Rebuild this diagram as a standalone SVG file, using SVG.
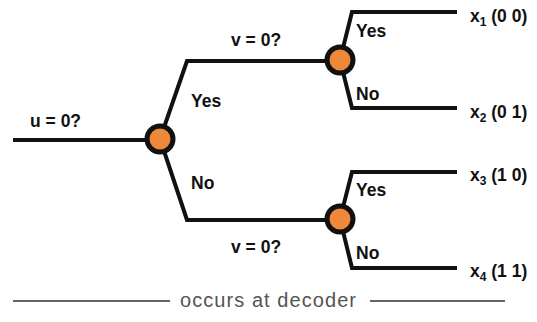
<svg xmlns="http://www.w3.org/2000/svg" width="537" height="322" viewBox="0 0 537 322">
<style>
.edge{fill:none;stroke:#111;stroke-width:4;stroke-linejoin:miter}
.node{fill:#F0883A;stroke:#111;stroke-width:5}
.lbl{font-family:"Liberation Sans",Arial,sans-serif;font-weight:bold;font-size:17.5px;fill:#111}
.sub{font-size:12px}
.foot{font-family:"Liberation Sans",Arial,sans-serif;font-size:20px;fill:#555}
.rule{stroke:#666;stroke-width:2}
</style>
<rect width="537" height="322" fill="#fff"/>
<g id="connectors">
<path class="edge" d="M13,140 H160"/>
<path class="edge" d="M160,139 L187,61 H340"/>
<path class="edge" d="M160,139 L187,220 H340"/>
<path class="edge" d="M340,60 L352,12 H457"/>
<path class="edge" d="M340,60 L352,108 H457"/>
<path class="edge" d="M340,219 L352,172 H457"/>
<path class="edge" d="M340,219 L352,268 H457"/>
</g>
<g id="labels">
<text class="lbl" x="30" y="127">u = 0?</text>
<text class="lbl" x="191" y="107">Yes</text>
<text class="lbl" x="191" y="189">No</text>
<text class="lbl" x="231" y="46">v = 0?</text>
<text class="lbl" x="231" y="253">v = 0?</text>
<text class="lbl" x="356" y="37">Yes</text>
<text class="lbl" x="356" y="100">No</text>
<text class="lbl" x="356" y="196">Yes</text>
<text class="lbl" x="356" y="259">No</text>
</g>
<g id="node-u"><circle class="node" cx="160" cy="139" r="13"/></g>
<g id="node-v1"><circle class="node" cx="340" cy="60" r="13"/></g>
<g id="node-v2"><circle class="node" cx="340" cy="219" r="13"/></g>
<g id="leaf-x1"><text class="lbl" x="470" y="22">x<tspan class="sub" dy="4">1</tspan><tspan dy="-4"> (0 0)</tspan></text></g>
<g id="leaf-x2"><text class="lbl" x="470" y="118">x<tspan class="sub" dy="4">2</tspan><tspan dy="-4"> (0 1)</tspan></text></g>
<g id="leaf-x3"><text class="lbl" x="470" y="181">x<tspan class="sub" dy="4">3</tspan><tspan dy="-4"> (1 0)</tspan></text></g>
<g id="leaf-x4"><text class="lbl" x="470" y="277">x<tspan class="sub" dy="4">4</tspan><tspan dy="-4"> (1 1)</tspan></text></g>
<g id="footer">
<line class="rule" x1="13" y1="301" x2="170" y2="301"/>
<text class="foot" x="180" y="307" textLength="176">occurs at decoder</text>
<line class="rule" x1="370" y1="301" x2="505" y2="301"/>
</g>
</svg>
